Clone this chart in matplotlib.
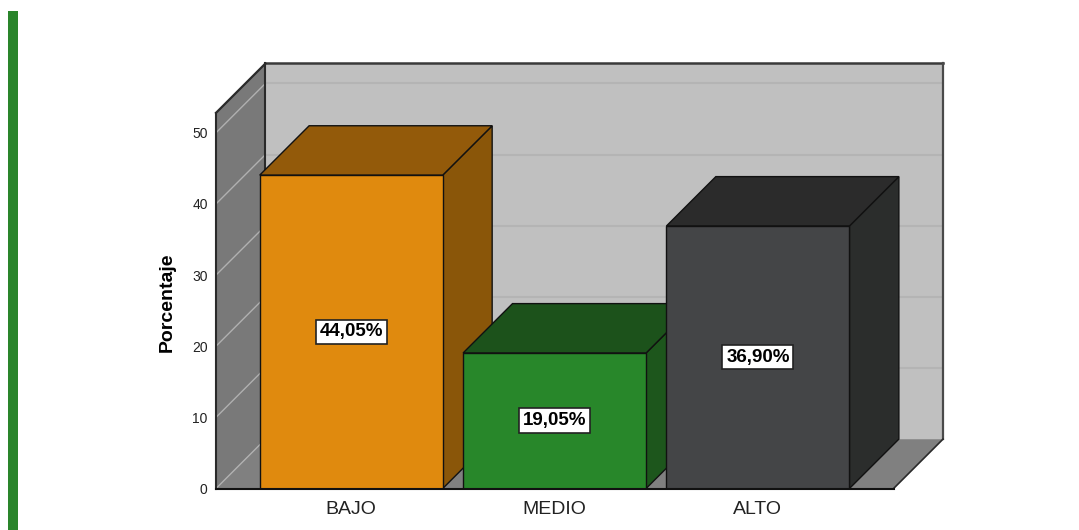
import matplotlib
matplotlib.use("Agg")
import matplotlib.pyplot as plt
from matplotlib.patches import Polygon, Rectangle
from matplotlib.lines import Line2D

plt.rcParams['font.family'] = ['Liberation Sans', 'DejaVu Sans']

# ---- data ----
categories = ['BAJO', 'MEDIO', 'ALTO']
values = [44.05, 19.05, 36.90]
value_labels = ['44,05%', '19,05%', '36,90%']
yticks = [0, 10, 20, 30, 40, 50]
front_colors = ['#e08a0e', '#28872a', '#444547']
top_colors = ['#935a0a', '#1c521b', '#2b2b2b']
side_colors = ['#8a5609', '#1d561c', '#2b2d2c']

# ---- layout (data units) ----
X0, XF = -0.665, 2.667      # front floor left/right
DX, DY = 0.243, 6.94        # depth offset
YF = 52.8                   # front-left wall top
BW = 0.90                   # bar width

fig = plt.figure(figsize=(10.79, 5.30), dpi=100)
fig.patch.set_facecolor('white')
fig.patches.append(Rectangle((8 / 1079, 0), 10 / 1079, 519 / 530,
                             transform=fig.transFigure, facecolor='#2a852b',
                             edgecolor='none'))

ax = fig.add_axes([216 / 1079, 41.5 / 530, 727 / 1079, 425 / 530])
ax.set_xlim(X0, XF + DX)
ax.set_ylim(0, YF + DY)
for s in ax.spines.values():
    s.set_visible(False)
ax.patch.set_alpha(0)

# walls
back = Polygon([(X0 + DX, DY), (XF + DX, DY), (XF + DX, YF + DY), (X0 + DX, YF + DY)],
               closed=True, facecolor='#c0c0c0', edgecolor='none', zorder=1)
ax.add_patch(back)
left = Polygon([(X0, 0), (X0 + DX, DY), (X0 + DX, YF + DY), (X0, YF)],
               closed=True, facecolor='#797979', edgecolor='none', zorder=1)
ax.add_patch(left)
floor = Polygon([(X0, 0), (XF, 0), (XF + DX, DY), (X0 + DX, DY)],
                closed=True, facecolor='#808080', edgecolor='none', zorder=1)
ax.add_patch(floor)

# gridlines
for t in yticks:
    if t > 0:
        ax.add_line(Line2D([X0 + DX, XF + DX], [t + DY, t + DY], color='#b4b4b4',
                           lw=1.5, zorder=2))
    ax.add_line(Line2D([X0, X0 + DX], [t, t + DY], color='#b0b0b0', lw=1.0, zorder=2))

# wall outlines
outline = [
    ([X0 + DX, XF + DX], [YF + DY, YF + DY], '#3a3a3a', 1.8),
    ([XF + DX, XF + DX], [DY, YF + DY], '#4a4a4a', 1.6),
    ([X0 + DX, X0 + DX], [DY, YF + DY], '#2a2a2a', 1.5),
    ([X0, X0 + DX], [YF, YF + DY], '#2a2a2a', 1.6),
    ([X0, X0], [0, YF], '#2a2a2a', 1.5),
    ([XF, XF + DX], [0, DY], '#2a2a2a', 1.2),
]
for xs, ys, c, w in outline:
    ax.add_line(Line2D(xs, ys, color=c, lw=w, zorder=2, clip_on=False))

# bars
for i, (v, fc, tc, sc) in enumerate(zip(values, front_colors, top_colors, side_colors)):
    xl, xr = i - BW / 2, i + BW / 2
    z = 3 + i
    ax.add_patch(Polygon([(xr, 0), (xr + DX, DY), (xr + DX, v + DY), (xr, v)], closed=True,
                         facecolor=sc, edgecolor='#111111', lw=1.0, zorder=z))
    ax.add_patch(Polygon([(xl, v), (xr, v), (xr + DX, v + DY), (xl + DX, v + DY)], closed=True,
                         facecolor=tc, edgecolor='#111111', lw=1.0, zorder=z))
    ax.add_patch(Polygon([(xl, 0), (xr, 0), (xr, v), (xl, v)], closed=True,
                         facecolor=fc, edgecolor='#111111', lw=1.0, zorder=z))
    ax.text(i, v / 2, value_labels[i], ha='center', va='center', fontsize=13.5,
            fontweight='bold', color='black', zorder=10,
            bbox=dict(boxstyle='square,pad=0.2', facecolor='white', edgecolor='#222222', lw=1.2))

# front floor edge
ax.add_line(Line2D([X0, XF], [0, 0], color='#111111', lw=1.5, zorder=9, clip_on=False))

ax.set_yticks(yticks)
ax.set_yticklabels([str(t) for t in yticks], fontsize=10, color='#222222')
ax.set_xticks(range(len(categories)))
ax.set_xticklabels(categories, fontsize=14, color='#222222')
ax.tick_params(axis='y', length=0, pad=6)
ax.tick_params(axis='x', length=0, pad=9)
ax.set_ylabel('Porcentaje', fontsize=14, fontweight='bold', labelpad=12)
ax.yaxis.label.set_y(0.438)

fig.savefig('out.png', dpi=100, facecolor='white')
